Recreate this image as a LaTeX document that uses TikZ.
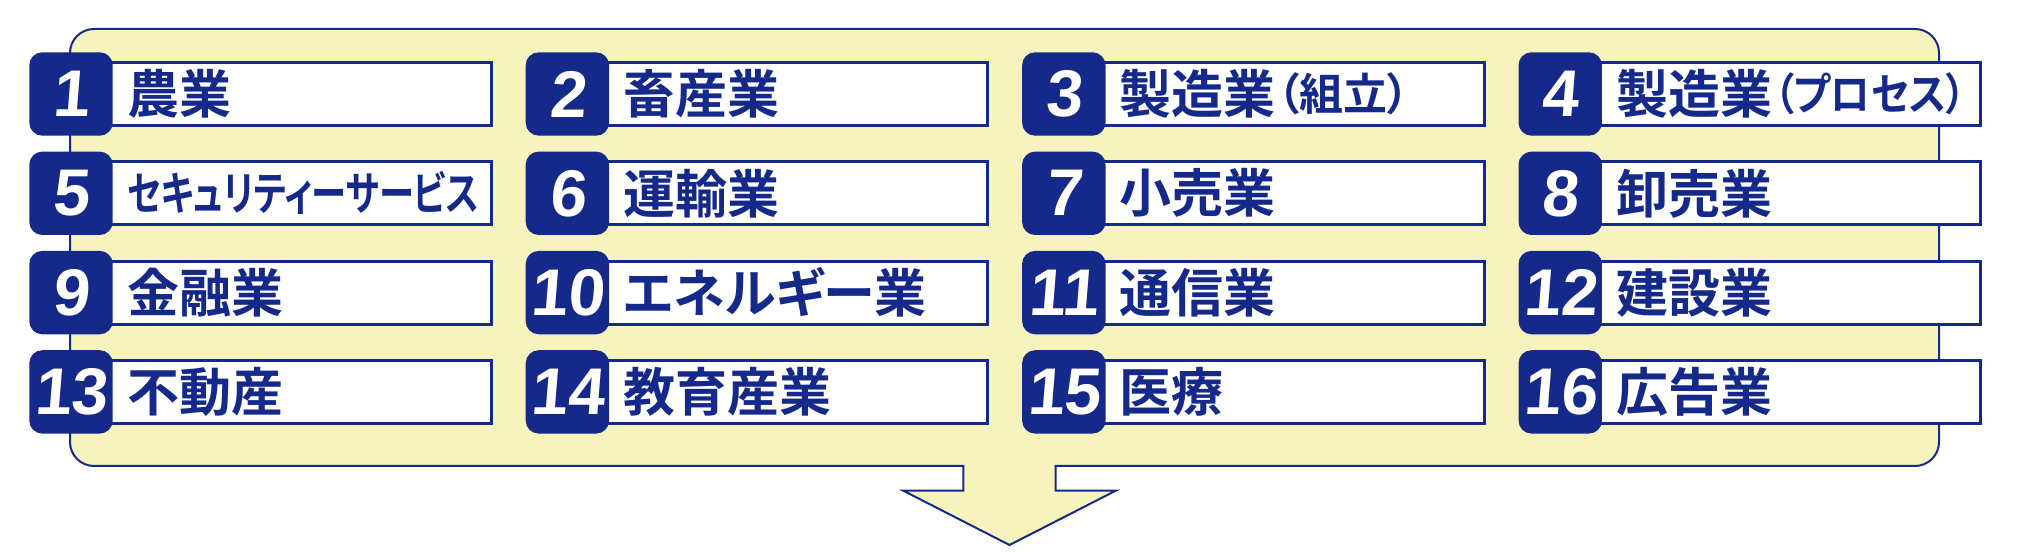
\documentclass[tikz,border=0pt]{standalone}
\usepackage{fontspec}
\usepackage{graphicx}
\newfontfamily\jp{Noto Sans CJK JP Bold}[RawFeature=+palt]
\newfontfamily\numfont{Liberation Sans Bold}[FakeSlant=0.08]
\definecolor{navy}{HTML}{15298A}
\definecolor{cream}{HTML}{F7F3BC}
\tikzset{
  whitebox/.style={draw=navy, line width=3pt, fill=white, rectangle, anchor=west,
    minimum width=420.2pt, minimum height=63pt, inner sep=0pt, outer sep=0pt},
  numbox/.style={fill=navy, rectangle, rounded corners=13pt, minimum width=83.4pt,
    minimum height=83.4pt, inner sep=0pt, outer sep=0pt, text=white,
    font=\numfont\fontsize{66}{66}\selectfont},
  itemtext/.style={anchor=west, inner sep=0pt, outer sep=0pt, text=navy,
    font=\jp\fontsize{52}{52}\selectfont},
  panel/.style={fill=cream, draw=navy, line width=2pt, line join=miter}
}
\newcommand\industry[4]{%
  \pgfmathsetmacro\cx{71+496.4*#2}%
  \pgfmathsetmacro\cy{459-99.3*#3}%
  \node[whitebox] (bx#1) at (\cx pt,\cy pt) {};
  \node[numbox] (sq#1) at (\cx pt,\cy pt) {#1};
  \node[itemtext] (tx#1) at (\cx pt+56pt,\cy pt) {#4};
}
\begin{document}
\begin{tikzpicture}[x=1pt,y=1pt]
\useasboundingbox (0,0) rectangle (2017,553);
% panel with arrow
\draw[panel] (963.3,87) -- (94,87) arc[start angle=270, end angle=180, radius=24]
  -- (70,500) arc[start angle=180, end angle=90, radius=24]
  -- (1915,524) arc[start angle=90, end angle=0, radius=24]
  -- (1939,111) arc[start angle=0, end angle=-90, radius=24]
  -- (1055.7,87) -- (1055.7,62.3) -- (1115.7,62.3) -- (1009.5,8)
  -- (903.3,62.3) -- (963.3,62.3) -- cycle;
\industry{1}{0}{0}{農業}
\industry{2}{1}{0}{畜産業}
\industry{3}{2}{0}{製造業\kern2pt\raisebox{3pt}{\fontsize{44}{44}\selectfont（組立）}}
\industry{4}{3}{0}{製造業\kern2pt\raisebox{3pt}{\scalebox{0.9}[1]{\fontsize{44}{44}\selectfont（プロセス）}}}
\industry{5}{0}{1}{\resizebox{352pt}{\height}{\fontsize{46}{46}\selectfont セキュリティーサービス}}
\industry{6}{1}{1}{運輸業}
\industry{7}{2}{1}{小売業}
\industry{8}{3}{1}{卸売業}
\industry{9}{0}{2}{金融業}
\industry{10}{1}{2}{エネルギー業}
\industry{11}{2}{2}{通信業}
\industry{12}{3}{2}{建設業}
\industry{13}{0}{3}{不動産}
\industry{14}{1}{3}{教育産業}
\industry{15}{2}{3}{医療}
\industry{16}{3}{3}{広告業}
\end{tikzpicture}
\end{document}
